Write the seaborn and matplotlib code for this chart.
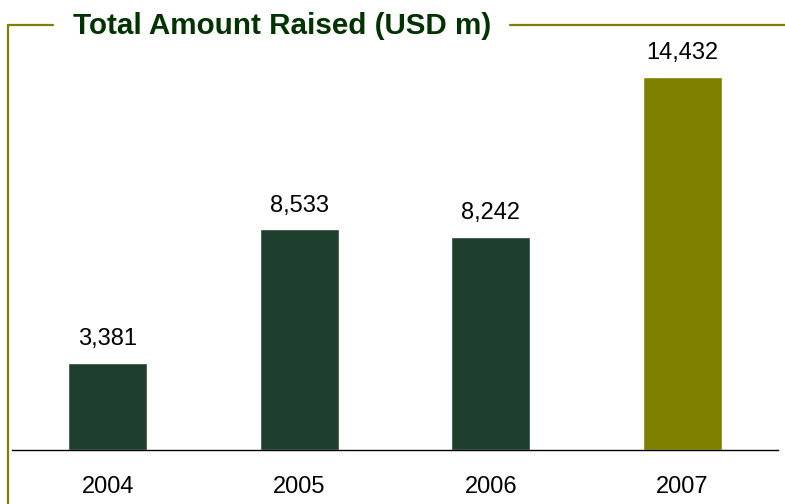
import matplotlib
matplotlib.use("Agg")
import matplotlib.pyplot as plt
from matplotlib.lines import Line2D
import seaborn as sns
import pandas as pd

years = ["2004", "2005", "2006", "2007"]
amounts = [3381, 8533, 8242, 14432]
bar_colors = ["#1F3F2E", "#1F3F2E", "#1F3F2E", "#808000"]

sns.set_theme(style="white")
plt.rcParams["font.family"] = ["Liberation Sans", "DejaVu Sans"]

W, H = 785, 504
fig = plt.figure(figsize=(W / 100, H / 100), dpi=100)

# axes spans from the baseline (y=450px) up to the frame line (y=25px)
ax = fig.add_axes([12 / W, (H - 450) / H, 766 / W, 425 / H])

df = pd.DataFrame({"year": years, "amount": amounts})
sns.barplot(data=df, x="year", y="amount", hue="year", palette=bar_colors,
            width=0.41, legend=False, saturation=1, ax=ax)

ax.set_xlim(-0.5, 3.5)
ax.set_ylim(0, 16440)
ax.set_xlabel("")
ax.set_ylabel("")
ax.set_yticks([])
for side in ("left", "right", "top"):
    ax.spines[side].set_visible(False)
ax.spines["bottom"].set_color("black")
ax.spines["bottom"].set_linewidth(1.0)
ax.tick_params(axis="x", which="major", length=0, pad=19, labelsize=17,
               labelcolor="black")
ax.set_xticks([-0.5], minor=True)
ax.tick_params(axis="x", which="minor", length=4, width=1.2, color="black",
               direction="out")

for i, v in enumerate(amounts):
    ax.annotate(f"{v:,}", (i, v), xytext=(0, 9), textcoords="offset points",
                ha="center", va="bottom", fontsize=17, color="black")

# olive frame lines around the title
olive = "#808000"
fy = 1 - 25 / H
fig.add_artist(Line2D([8 / W, 8 / W], [0, fy], transform=fig.transFigure,
                      color=olive, lw=1.6))
fig.add_artist(Line2D([8 / W, 53 / W], [fy, fy], transform=fig.transFigure,
                      color=olive, lw=1.6))
fig.add_artist(Line2D([510 / W, 1], [fy, fy], transform=fig.transFigure,
                      color=olive, lw=1.6))

fig.text(73 / W, 1 - 26 / H, "Total Amount Raised (USD m)", ha="left",
         va="center", fontsize=21.3, fontweight="bold", color="#003300")

fig.savefig("out.png", dpi=100)
